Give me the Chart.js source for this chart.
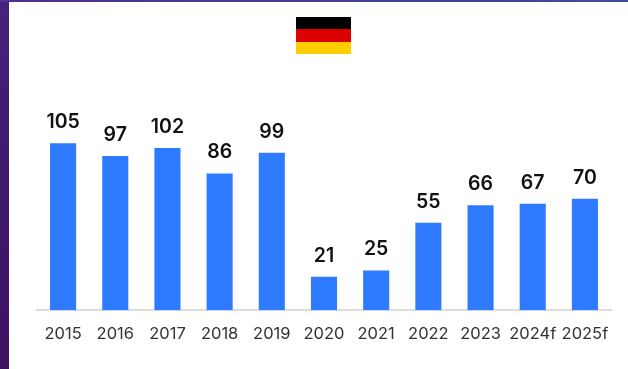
<!DOCTYPE html>
<html>
<head>
<meta charset="utf-8">
<script src="https://cdn.jsdelivr.net/npm/chart.js@4"></script>
<style>
    html, body { margin: 0; padding: 0; background: #fff; }
    #wrap { position: relative; width: 628px; height: 369px; overflow: hidden; }
    #left-strip { position: absolute; left: 0; top: 0; width: 9px; height: 369px; background: linear-gradient(#44237a, #3e1160); }
    #top-strip { position: absolute; left: 0; top: 0; width: 628px; height: 2px; background: linear-gradient(90deg, #4f3090, #3f4a9c); }
    #flag { position: absolute; left: 296px; top: 17px; width: 55px; height: 37px; }
    #flag div { height: 12.33px; }
    canvas { position: absolute; left: 0; top: 0; }
</style>
</head>
<body>
<div id="wrap">
    <canvas id="mainChart" width="628" height="369"></canvas>
    <div id="left-strip"></div>
    <div id="top-strip"></div>
    <div id="flag">
        <div style="background:#000"></div>
        <div style="background:#dd0000"></div>
        <div style="background:#ffce00"></div>
    </div>
</div>
<script>
const years = ['2015', '2016', '2017', '2018', '2019', '2020', '2021', '2022', '2023', '2024f', '2025f'];
const values = [105, 97, 102, 86, 99, 21, 25, 55, 66, 67, 70];

const valueLabels = {
    id: 'valueLabels',
    afterDatasetsDraw(chart) {
        const ctx = chart.ctx;
        ctx.save();
        ctx.font = '600 19.5px Inter';
        ctx.fillStyle = '#111';
        ctx.textAlign = 'center';
        ctx.textBaseline = 'alphabetic';
        chart.getDatasetMeta(0).data.forEach((bar, i) => {
            ctx.fillText(values[i], bar.x, bar.y - 15);
        });
        ctx.restore();
    }
};

new Chart(document.getElementById('mainChart').getContext('2d'), {
    type: 'bar',
    data: {
        labels: years,
        datasets: [{
            data: values,
            backgroundColor: '#2f7bff',
            barPercentage: 0.5,
            categoryPercentage: 1
        }]
    },
    options: {
        responsive: false,
        animation: false,
        layout: { padding: { left: 37, right: 17, top: 8, bottom: 19 } },
        plugins: { legend: { display: false }, tooltip: { enabled: false } },
        scales: {
            x: {
                grid: { display: false },
                border: { color: '#dddddd', width: 2 },
                ticks: {
                    color: '#333',
                    font: { family: 'Inter', size: 16.5 },
                    padding: 6,
                    maxRotation: 0,
                    autoSkip: false
                }
            },
            y: { display: false, min: 0, max: 190 }
        }
    },
    plugins: [valueLabels]
});
</script>
</body>
</html>
